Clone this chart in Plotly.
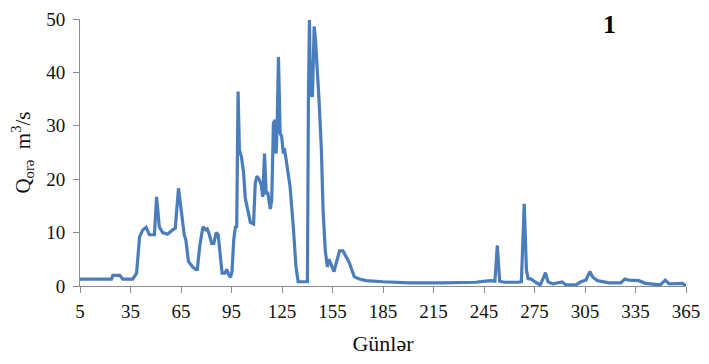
import plotly.graph_objects as go

days = [5, 23.7, 24.5, 28.6, 30.4, 36.3, 38.6, 40.4, 42.3, 44.3, 46.2, 49.2, 50.5, 52.1, 54.1, 57,
        60, 61.6, 63.5, 65.5, 66.9, 67.9, 69.4, 71.8, 73.8, 74.7, 76.1, 77.7, 78.1, 79.7, 80.6,
        81.6, 83.2, 84.5, 85.9, 87.1, 88.5, 89.4, 91, 92.2, 93.4, 94.4, 95.3, 96.3, 97.3, 98.1,
        98.9, 99.7, 100.9, 102.2, 103.2, 104.8, 106.2, 108.1, 109.1, 110.1, 111.5, 112.7, 113.6,
        114.6, 115.6, 116.6, 118, 118.9, 119.9, 120.9, 121.5, 122.1, 122.9, 123.9, 124.8, 125.8,
        126.4, 127.2, 128.4, 129.8, 131.7, 133.3, 134.6, 140.1, 140.7, 141.3, 141.9, 142.5, 143.1,
        144.1, 144.9, 146, 147, 148.4, 149.4, 150.7, 151.9, 152.9, 154.3, 155.9, 157.2, 159.2,
        161.2, 163.1, 165.1, 166.5, 168, 171, 174.9, 185, 201, 220, 240, 246, 249, 251.5, 252.9,
        254.3, 257, 265, 267.2, 268.9, 270.2, 271.2, 273.1, 275.1, 278.4, 280.4, 281.5, 283,
        285.9, 291.4, 293.7, 299.6, 302.6, 305.5, 307.9, 309.5, 312.4, 319.3, 326.2, 328.7,
        331.1, 337, 340.9, 349.7, 352.7, 355, 360.5, 362.9, 364.5, 365]
flow = [1.3, 1.3, 2.0, 2.0, 1.3, 1.3, 2.4, 9.2, 10.5, 11.0, 9.6, 9.6, 16.7, 11.1, 10.0, 9.7,
        10.5, 10.8, 18.3, 13.6, 9.6, 8.6, 4.6, 3.6, 3.1, 3.1, 7.4, 10.5, 11.1, 10.5, 10.7,
        9.9, 8.0, 8.0, 10.0, 9.6, 4.3, 2.4, 2.4, 3.1, 2.1, 1.6, 2.7, 8.6, 11.0, 11.1,
        36.4, 25.5, 24.2, 21.1, 16.4, 14.2, 11.9, 11.6, 19.2, 20.6, 19.9, 18.9, 16.7,
        24.8, 17.4, 17.4, 14.4, 16.1, 30.5, 31.1, 24.8, 29.8, 42.9, 28.6, 28.0, 24.8,
        25.8, 24.2, 21.1, 18.6, 11.1, 3.6, 0.8, 0.8, 35.4, 49.8, 35.4, 42.3, 35.4,
        48.6, 46.1, 41.1, 34.8, 25.5, 14.2, 6.7, 3.6, 5.0, 3.9, 2.7, 4.3, 6.6,
        6.6, 5.5, 4.3, 3.0, 1.7, 1.3, 1.0, 0.8, 0.6, 0.6, 0.7, 0.9, 1.0, 0.9, 7.6,
        0.9, 0.7, 0.7, 0.8, 15.4, 3.0, 1.4, 1.3, 0.8, 0.2, 1.6, 2.5, 0.8,
        0.4, 0.75, 0.2, 0.2, 0.8, 1.1, 2.7, 1.7, 1.0, 0.6, 0.6, 1.3,
        1.1, 1.0, 0.5, 0.2, 1.1, 0.4, 0.4, 0.5, 0.1, 0.3]

x_ticks = [5, 35, 65, 95, 125, 155, 185, 215, 245, 275, 305, 335, 365]
y_ticks = [0, 10, 20, 30, 40, 50]

serif = "Liberation Serif, Times New Roman, serif"

fig = go.Figure()
fig.add_trace(go.Scatter(x=days, y=flow, mode="lines",
                         line=dict(color="#4a7dbb", width=3.2), hoverinfo="skip"))

# page body has an 8px default margin, so the figure is sized to fit the window
fig.update_layout(
    width=693, height=348,
    margin=dict(l=72, r=15, t=11, b=70, autoexpand=False),
    paper_bgcolor="white", plot_bgcolor="white",
    showlegend=False,
    font=dict(family=serif, size=19, color="#111"),
    xaxis=dict(range=[5, 365], tickvals=x_ticks, ticktext=[str(v) for v in x_ticks],
               showgrid=False, zeroline=False, showline=True, linecolor="#8c8c8c",
               linewidth=1, ticks="outside", ticklen=6, tickcolor="#8c8c8c",
               ticklabelstandoff=2, automargin=False, ticklabeloverflow="allow",
               tickfont=dict(family=serif, size=19, color="#111"),
               title=dict(text="Günlər", font=dict(family=serif, size=22, color="#111"),
                          standoff=14)),
    yaxis=dict(range=[0, 50], tickvals=y_ticks,
               showgrid=False, zeroline=False, showline=True, linecolor="#8c8c8c",
               linewidth=1, ticks="outside", ticklen=6, tickcolor="#8c8c8c",
               ticklabelstandoff=4, automargin=False,
               tickfont=dict(family=serif, size=19, color="#111"),
               title=dict(text="Q<sub>orə</sub>\u00a0\u00a0m<sup>3</sup>/s",
                          font=dict(family=serif, size=21, color="#111"), standoff=27)),
    annotations=[dict(text="<b>1</b>", xref="paper", yref="paper", x=0.873, y=1.041,
                      xanchor="center", yanchor="top", showarrow=False,
                      font=dict(family=serif, size=26, color="#000"))],
)

fig.write_html("out.html")
